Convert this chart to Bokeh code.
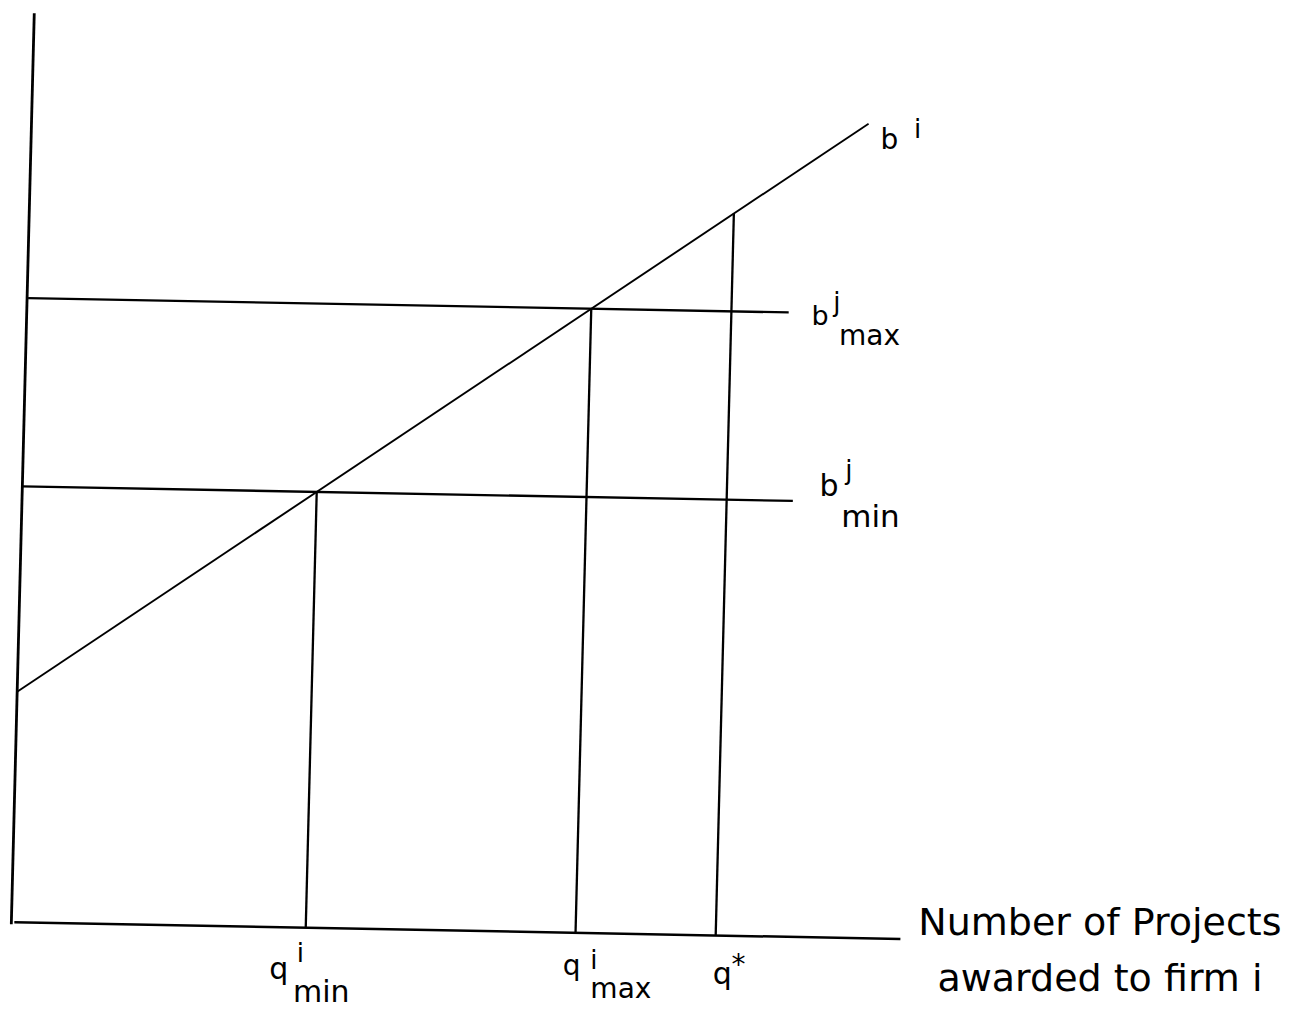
import numpy as np
from bokeh.plotting import figure
from bokeh.models import Range1d
from bokeh.embed import file_html
from bokeh.resources import INLINE
from bokeh.core.properties import value

# ---- conceptual diagram values (diagram units) ----
x_axis_len = 900.0        # length of quantity axis
y_axis_len = 927.0        # length of bid axis
b_i_intercept = 235.0     # firm i bid curve b^i: intercept
b_i_slope = 0.703         # firm i bid curve b^i: slope
b_i_end = 847.0           # where b^i is drawn to
b_j_min = 444.5           # b^j_min level
b_j_max = 636.5           # b^j_max level
b_min_end = 780.0
b_max_end = 771.0
q_star = 713.0            # q*

q_min = (b_j_min - b_i_intercept) / b_i_slope
q_max = (b_j_max - b_i_intercept) / b_i_slope

def b_i(q):
    return b_i_intercept + b_i_slope * q

# slight skew of the scanned drawing
SKEW_A = 0.019   # horizontal lines fall to the right
SKEW_B = 0.025   # vertical lines lean to the right

def skew(X, Y):
    X = np.asarray(X, dtype=float)
    Y = np.asarray(Y, dtype=float)
    return X + Y * SKEW_B, Y - X * SKEW_A

W, H = 1298, 1008
p = figure(width=W, height=H, output_backend="svg", toolbar_location=None,
           x_range=Range1d(-11, 1303), y_range=Range1d(-88, 940),
           min_border=0, outline_line_color=None)
p.axis.visible = False
p.grid.visible = False
p.background_fill_color = "white"
p.border_fill_color = "white"

def seg(x0, y0, x1, y1, w):
    xs, ys = skew([x0, x1], [y0, y1])
    p.line(xs, ys, line_color="black", line_width=w)

# axes
seg(0, -2, 0, y_axis_len, 2.8)
seg(3, 0, x_axis_len, 0, 2.5)
# bid lines
seg(0, b_i(0), b_i_end, b_i(b_i_end), 1.9)
seg(1, b_j_max, b_max_end, b_j_max, 2.3)
seg(0, b_j_min, b_min_end, b_j_min, 2.3)
# verticals
seg(q_min, 0, q_min, b_j_min, 2.3)
seg(q_max, 0, q_max, b_j_max, 2.3)
seg(q_star, 0, q_star, b_i(q_star), 2.3)

FONT = value("DejaVu Sans")

def label(anchor, dx, dy, txt, size, align="left"):
    ax, ay = skew([anchor[0]], [anchor[1]])
    p.text(x=[float(ax[0]) + dx], y=[float(ay[0]) - dy], text=[txt],
           text_font=FONT, text_font_size=f"{size}px", text_color="black",
           text_align=align, text_baseline="alphabetic")

# b^i
a = (b_i_end, b_i(b_i_end))
label(a, 12, 16, "b", 28)
label(a, 46, 5, "i", 26)
# b^j_max
a = (b_max_end, b_j_max)
label(a, 23, 3, "b", 27)
label(a, 45, -11, "j", 26)
label(a, 51, 24, "max", 28)
# b^j_min
a = (b_min_end, b_j_min)
label(a, 27, -16, "b", 30)
label(a, 53, -32, "j", 26)
label(a, 49, 15, "min", 31)
# q^i_min
a = (q_min, 0)
label(a, -37, 42, "q", 30)
label(a, -9, 26, "i", 26)
label(a, -13, 65, "min", 30)
# q^i_max
a = (q_max, 0)
label(a, -13, 33, "q", 28)
label(a, 15, 28, "i", 26)
label(a, 15, 57, "max", 28)
# q*
a = (q_star, 0)
label(a, -3, 39, "q", 30)
label(a, 16, 30, "*", 28)
# axis title
a = (x_axis_len, 0)
label(a, 202, -17, "Number of Projects", 38, "center")
label(a, 202, 40, "awarded to firm i", 38, "center")

open("out.html", "w").write(file_html(p, INLINE))
